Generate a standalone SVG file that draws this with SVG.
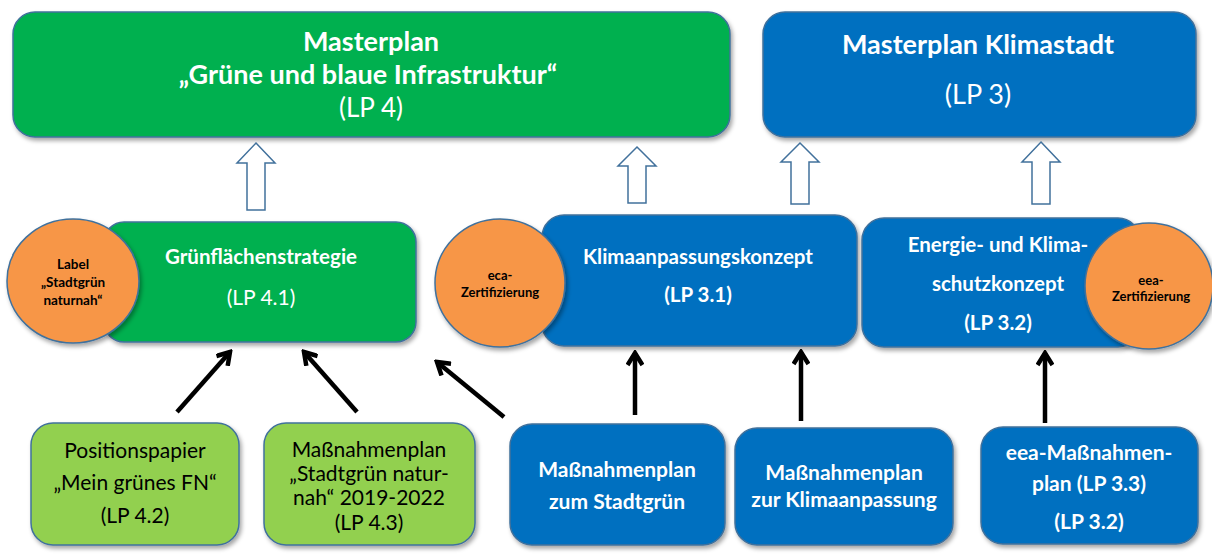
<svg xmlns="http://www.w3.org/2000/svg" width="1212" height="556" viewBox="0 0 1212 556">
<defs>
<filter id="sh" x="-10%" y="-10%" width="130%" height="130%">
<feDropShadow dx="2" dy="3" stdDeviation="2" flood-color="#000" flood-opacity="0.35"/>
</filter>
<marker id="ah" viewBox="0 0 18 18" markerWidth="18" markerHeight="18" refX="15" refY="9" orient="auto" markerUnits="userSpaceOnUse">
<path d="M3,1.5 L15,9 L3,16.5" fill="none" stroke="#000" stroke-width="4.5" stroke-linejoin="miter"/>
</marker>
<style>
.box{stroke:#41719C;stroke-width:1.5;filter:url(#sh)}
.g{fill:#00B050}
.b{fill:#0070C0}
.lg{fill:#92D050}
.o{fill:#F79646;stroke:#41719C;stroke-width:1.5;filter:url(#sh)}
.hol{fill:#fff;stroke:#41719C;stroke-width:1.5}
.con{stroke:#000;stroke-width:4.5;fill:none;marker-end:url(#ah)}
text{font-family:Lato,"Open Sans","Liberation Sans",sans-serif;text-anchor:middle}
.wb{fill:#fff;font-weight:bold}
.wr{fill:#fff}
.kb{fill:#000;font-weight:bold}
.kr{fill:#000}
</style>
</defs>

<g id="masterplan-gruen">
<rect class="box g" x="13" y="12" width="717" height="125" rx="22"/>
<text class="wb" x="371" y="51" font-size="27">Masterplan</text>
<text class="wb" x="368" y="84" font-size="27">„Grüne und blaue Infrastruktur“</text>
<text class="wr" x="371" y="117" font-size="26">(LP 4)</text>
</g>

<g id="masterplan-klimastadt">
<rect class="box b" x="763" y="12" width="433" height="125" rx="22"/>
<text class="wb" x="978" y="54" font-size="27">Masterplan Klimastadt</text>
<text class="wr" x="978" y="104" font-size="27">(LP 3)</text>
</g>

<g id="hollow-arrows">
<polygon class="hol" points="256,143 275,163 265,163 265,210 247,210 247,163 237,163"/>
<polygon class="hol" points="637,147 656,166 646,166 646,203 628,203 628,166 618,166"/>
<polygon class="hol" points="800,143 819,162 809,162 809,204 791,204 791,162 781,162"/>
<polygon class="hol" points="1041,142 1060,162 1050,162 1050,204 1032,204 1032,162 1022,162"/>
</g>

<g id="gruenflaechenstrategie">
<rect class="box g" x="104" y="222" width="312" height="120" rx="20"/>
<text class="wb" x="261" y="264" font-size="20.5">Grünflächenstrategie</text>
<text class="wr" x="261" y="305" font-size="21">(LP 4.1)</text>
</g>

<g id="label-stadtgruen">
<ellipse class="o" cx="73" cy="281" rx="66" ry="62"/>
<text class="kb" x="73" y="269" font-size="13.5">Label</text>
<text class="kb" x="73" y="287" font-size="13.5">„Stadtgrün</text>
<text class="kb" x="73" y="305" font-size="13.5">naturnah“</text>
</g>

<g id="klimaanpassungskonzept">
<rect class="box b" x="542" y="215" width="315" height="131" rx="22"/>
<text class="wb" x="698" y="264" font-size="20.5">Klimaanpassungskonzept</text>
<text class="wb" x="698" y="302" font-size="20.5">(LP 3.1)</text>
</g>

<g id="eca-zertifizierung">
<ellipse class="o" cx="500" cy="283" rx="65" ry="64"/>
<text class="kb" x="500" y="280" font-size="13">eca-</text>
<text class="kb" x="500" y="297" font-size="13">Zertifizierung</text>
</g>

<g id="energie-klimaschutzkonzept">
<rect class="box b" x="862" y="218" width="278" height="129" rx="22"/>
<text class="wb" x="998" y="252" font-size="20.5">Energie- und Klima-</text>
<text class="wb" x="998" y="291" font-size="20.5">schutzkonzept</text>
<text class="wb" x="998" y="330" font-size="20.5">(LP 3.2)</text>
</g>

<g id="eea-zertifizierung">
<ellipse class="o" cx="1149" cy="286" rx="64" ry="63"/>
<text class="kb" x="1151" y="285" font-size="13">eea-</text>
<text class="kb" x="1151" y="301" font-size="13">Zertifizierung</text>
</g>

<g id="positionspapier">
<rect class="box lg" x="31" y="423" width="208" height="122" rx="22"/>
<text class="kr" x="135" y="458" font-size="21">Positionspapier</text>
<text class="kr" x="135" y="490" font-size="21">„Mein grünes FN“</text>
<text class="kr" x="135" y="523" font-size="21">(LP 4.2)</text>
</g>

<g id="massnahmenplan-stadtgruen-naturnah">
<rect class="box lg" x="264" y="423" width="211" height="122" rx="22"/>
<text class="kr" x="369" y="457" font-size="21">Maßnahmenplan</text>
<text class="kr" x="369" y="481" font-size="21">„Stadtgrün natur-</text>
<text class="kr" x="369" y="505" font-size="21">nah“ 2019-2022</text>
<text class="kr" x="369" y="530" font-size="21">(LP 4.3)</text>
</g>

<g id="massnahmenplan-stadtgruen">
<rect class="box b" x="510" y="424" width="215" height="121" rx="22"/>
<text class="wb" x="617" y="477" font-size="21">Maßnahmenplan</text>
<text class="wb" x="617" y="509" font-size="21">zum Stadtgrün</text>
</g>

<g id="massnahmenplan-klimaanpassung">
<rect class="box b" x="735" y="428" width="218" height="117" rx="22"/>
<text class="wb" x="844" y="480" font-size="21">Maßnahmenplan</text>
<text class="wb" x="844" y="507" font-size="21">zur Klimaanpassung</text>
</g>

<g id="eea-massnahmenplan">
<rect class="box b" x="981" y="427" width="217" height="117" rx="22"/>
<text class="wb" x="1089" y="460" font-size="21">eea-Maßnahmen-</text>
<text class="wb" x="1089" y="491" font-size="21">plan (LP 3.3)</text>
<text class="wb" x="1089" y="529" font-size="21">(LP 3.2)</text>
</g>

<g id="connectors">
<line class="con" x1="177" y1="412" x2="230" y2="352"/>
<line class="con" x1="357" y1="412" x2="304" y2="352"/>
<line class="con" x1="504" y1="417" x2="437" y2="362"/>
<line class="con" x1="635" y1="415" x2="635" y2="353"/>
<line class="con" x1="801" y1="421" x2="801" y2="352"/>
<line class="con" x1="1045" y1="423" x2="1045" y2="353"/>
</g>
</svg>
